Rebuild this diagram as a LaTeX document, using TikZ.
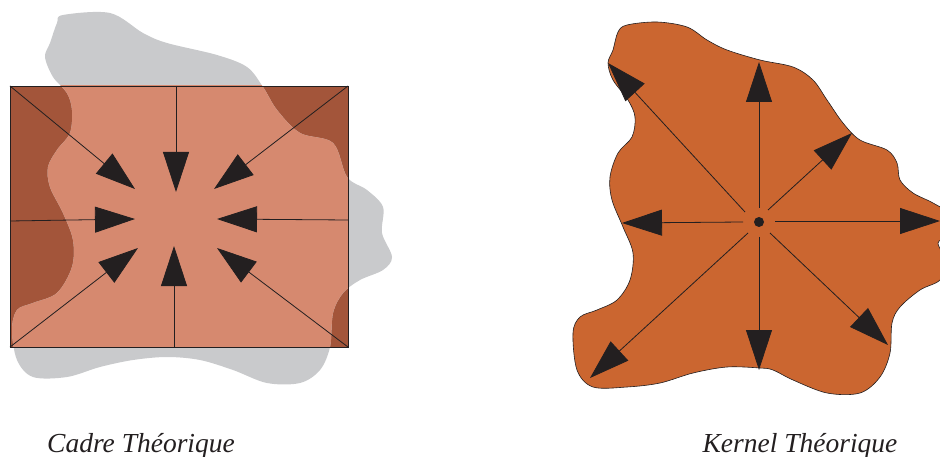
\documentclass[tikz,border=0pt]{standalone}
\usepackage{fontspec}
\setmainfont{Liberation Serif}
\usetikzlibrary{arrows.meta}
\definecolor{darkbrown}{HTML}{A3553A}
\definecolor{salmon}{HTML}{D6896F}
\definecolor{blobgray}{HTML}{C9CACC}
\definecolor{kernelorange}{HTML}{CB6630}
\definecolor{ink}{HTML}{231F20}
\tikzset{
  arr/.style={draw=ink, line width=0.8pt, -{Triangle[length=40pt,width=26pt]}},
  lbl/.style={font=\fontsize{27.5}{30}\selectfont\itshape, text=ink, anchor=base, inner sep=0pt},
}
\begin{document}
\begin{tikzpicture}[x=1pt,y=-1pt]
\useasboundingbox (0,0) rectangle (940,457);
\def\grayblob{plot[smooth cycle, tension=0.55] coordinates {(63,15) (110,13) (143,33) (167,43) (217,55) (247,67) (263,87) (277,110) (300,133) (333,143) (347,177) (367,190) (383,207) (382,233) (392,257) (383,270) (360,280) (343,293) (333,313) (330,347) (320,370) (300,383) (267,383) (233,370) (200,360) (167,357) (133,360) (100,367) (67,377) (33,377) (17,360) (12,330) (17,310) (33,303) (57,293) (72,267) (73,240) (63,213) (50,187) (48,167) (57,150) (70,133) (72,110) (67,93) (53,77) (45,57) (50,43) (57,23)}}
% left: frame
\fill[darkbrown] (10,86) rectangle (348,347);
\fill[blobgray] \grayblob;
\begin{scope}
  \clip (10,86) rectangle (348,347);
  \fill[salmon] \grayblob;
\end{scope}
\draw[ink, line width=0.8pt] (10,86) rectangle (348,347);
% left arrows
\coordinate (tl) at (10,86);   \coordinate (tlT) at (135,189);
\coordinate (tm) at (176,86);  \coordinate (tmT) at (176,192);
\coordinate (tr) at (348,86);  \coordinate (trT) at (214,189);
\coordinate (ml) at (10,221);  \coordinate (mlT) at (135,219);
\coordinate (mr) at (348,220); \coordinate (mrT) at (217,219);
\coordinate (bl) at (10,347);  \coordinate (blT) at (138,248);
\coordinate (bm) at (174,347); \coordinate (bmT) at (174,246);
\coordinate (br) at (348,347); \coordinate (brT) at (217,248);
\foreach \a in {tl,tm,tr,ml,mr,bl,bm,br} { \draw[arr] (\a) -- (\a T); }
% right: kernel
\fill[kernelorange, draw=ink, line width=0.6pt] plot[smooth cycle, tension=0.55] coordinates {(627,25) (657,22) (687,27) (707,40) (727,50) (760,60) (793,67) (813,80) (827,100) (843,123) (860,140) (887,150) (897,163) (900,180) (913,193) (933,203) (948,214) (947,236) (938,243) (946,262) (940,280) (920,290) (900,307) (892,323) (890,353) (880,377) (860,393) (827,393) (793,380) (773,370) (760,368) (727,367) (693,373) (660,383) (627,387) (593,387) (577,370) (573,333) (580,317) (597,310) (617,300) (630,280) (633,253) (623,227) (612,200) (610,177) (618,153) (632,137) (635,117) (628,100) (613,80) (608,63) (613,50) (618,32)};
\node[circle, fill=ink, minimum size=10pt, inner sep=0pt] (c) at (759,222) {};
\coordinate (uS) at (759,208);  \coordinate (uT) at (759,62);
\coordinate (ulS) at (745,212); \coordinate (ulT) at (608,63);
\coordinate (urS) at (768,210); \coordinate (urT) at (852,133);
\coordinate (lS) at (743,222);  \coordinate (lT) at (622,223);
\coordinate (rS) at (775,221);  \coordinate (rT) at (940,221);
\coordinate (dlS) at (748,233); \coordinate (dlT) at (590,378);
\coordinate (dS) at (759,237);  \coordinate (dT) at (759,370);
\coordinate (drS) at (770,233); \coordinate (drT) at (888,345);
\foreach \a in {u,ul,ur,l,r,dl,d,dr} { \draw[arr] (\a S) -- (\a T); }
% labels
\node[lbl] (cadre) at (141,452) {Cadre Théorique};
\node[lbl] (kernel) at (800,452) {Kernel Théorique};
\end{tikzpicture}
\end{document}
